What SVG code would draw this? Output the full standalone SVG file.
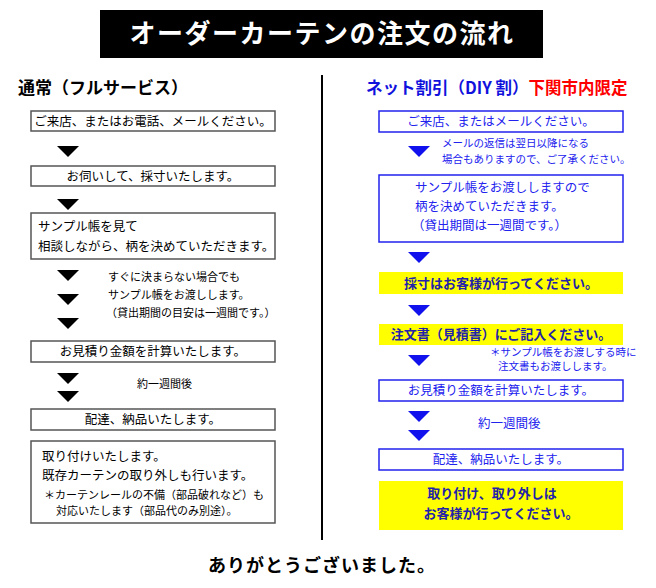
<svg xmlns="http://www.w3.org/2000/svg" width="656" height="588" viewBox="0 0 656 588">
<style>
text{font-family:"Noto Sans CJK JP","Noto Sans CJK SC",sans-serif;}
.lb{fill:#fff;stroke:#555;stroke-width:1.5}
.rb{fill:#fff;stroke:#2222ee;stroke-width:1.5}
.yb{fill:#ffff00}
.t{font-size:12.5px;fill:#000}
.tb{font-size:12.5px;fill:#2222ee}
.n{font-size:11px;fill:#000}
.nb{font-size:10.5px;fill:#2222ee}
.yt{font-size:13px;font-weight:bold;fill:#2222aa}
.m{text-anchor:middle}
</style>
<defs>
<polygon id="ta" points="0,0 22,0 11,11" fill="#000"/>
<polygon id="tb" points="0,0 22,0 11,11" fill="#1111ee"/>
</defs>
<rect x="100" y="10" width="443" height="48" fill="#000"/>
<text x="322" y="43" class="m" font-size="26" font-weight="bold" letter-spacing="1.5" fill="#fff">オーダーカーテンの注文の流れ</text>
<g id="connectors">
<line x1="322" y1="75" x2="322" y2="540" stroke="#000" stroke-width="2"/>
<use href="#ta" x="57" y="146"/><use href="#ta" x="57" y="199"/>
<use href="#ta" x="57" y="270"/><use href="#ta" x="57" y="294"/><use href="#ta" x="57" y="318"/>
<use href="#ta" x="57" y="373"/><use href="#ta" x="57" y="391"/>
<use href="#tb" x="408" y="146"/><use href="#tb" x="408" y="252"/><use href="#tb" x="408" y="305"/>
<use href="#tb" x="408" y="355"/><use href="#tb" x="408" y="411"/><use href="#tb" x="408" y="430"/>
</g>
<text x="18" y="94" font-size="17" font-weight="bold">通常（フルサービス）</text>
<g id="l1"><rect class="lb" x="31" y="111" width="244" height="20"/><text class="t m" x="153" y="126">ご来店、またはお電話、メールください。</text></g>
<g id="l2"><rect class="lb" x="31" y="166" width="244" height="20"/><text class="t m" x="153" y="181">お伺いして、採寸いたします。</text></g>
<g id="l3"><rect class="lb" x="31" y="213" width="244" height="46"/><text class="t" x="38" y="231">サンプル帳を見て</text><text class="t" x="38" y="251">相談しながら、柄を決めていただきます。</text></g>
<g id="ln1"><text class="n" x="108" y="281">すぐに決まらない場合でも</text><text class="n" x="108" y="299">サンプル帳をお渡しします。</text><text class="n" x="106" y="317">（貸出期間の目安は一週間です。）</text></g>
<g id="l4"><rect class="lb" x="31" y="341" width="244" height="21"/><text class="t m" x="153" y="356">お見積り金額を計算いたします。</text></g>
<text class="n" x="137" y="388">約一週間後</text>
<g id="l5"><rect class="lb" x="31" y="409" width="244" height="21"/><text class="t m" x="153" y="424">配達、納品いたします。</text></g>
<g id="l6"><rect class="lb" x="31" y="441" width="244" height="82"/><text class="t" x="42" y="461">取り付けいたします。</text><text class="t" x="42" y="480">既存カーテンの取り外しも行います。</text><text class="n" x="44" y="499">＊カーテンレールの不備（部品破れなど）も</text><text class="n" x="56" y="515">対応いたします（部品代のみ別途）。</text></g>
<text x="366" y="94" font-size="16.5" font-weight="bold" fill="#1111dd">ネット割引（DIY 割）<tspan fill="#ff0000">下関市内限定</tspan></text>
<g id="r1"><rect class="rb" x="379" y="111" width="244" height="21"/><text class="tb m" x="501" y="126">ご来店、またはメールください。</text></g>
<g id="rn1"><text class="nb" x="442" y="147">メールの返信は翌日以降になる</text><text class="nb" x="442" y="163">場合もありますので、ご了承ください。</text></g>
<g id="r2"><rect class="rb" x="379" y="175" width="244" height="67"/><text class="tb" x="415" y="192">サンプル帳をお渡ししますので</text><text class="tb" x="415" y="211">柄を決めていただきます。</text><text class="tb" x="412" y="230">（貸出期間は一週間です。）</text></g>
<g id="y1"><rect class="yb" x="379" y="272" width="244" height="22"/><text class="yt m" x="501" y="288">採寸はお客様が行ってください。</text></g>
<g id="y2"><rect class="yb" x="379" y="324" width="244" height="21"/><text class="yt m" x="501" y="339">注文書（見積書）にご記入ください。</text></g>
<g id="rn2"><text class="nb" x="490" y="356" font-size="9.5">＊サンプル帳をお渡しする時に</text><text class="nb" x="498" y="370" font-size="9.5">注文書もお渡しします。</text></g>
<g id="r3"><rect class="rb" x="379" y="380" width="244" height="21"/><text class="tb m" x="501" y="395">お見積り金額を計算いたします。</text></g>
<text class="tb" x="478" y="428" font-size="11.5">約一週間後</text>
<g id="r4"><rect class="rb" x="379" y="449" width="244" height="21"/><text class="tb m" x="501" y="464">配達、納品いたします。</text></g>
<g id="y3"><rect class="yb" x="379" y="481" width="244" height="49"/><text class="yt m" x="492" y="498">取り付け、取り外しは</text><text class="yt m" x="501" y="518">お客様が行ってください。</text></g>
<text x="322" y="572" class="m" font-size="18" font-weight="bold" letter-spacing="1">ありがとうございました。</text>
</svg>
